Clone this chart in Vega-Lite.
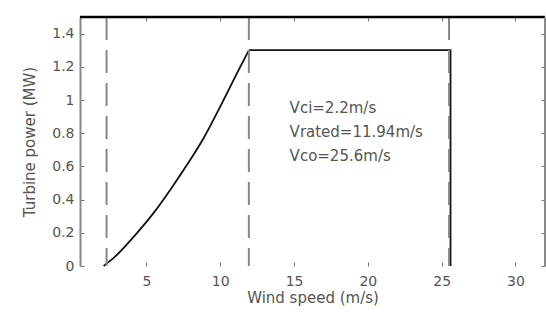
{
  "$schema": "https://vega.github.io/schema/vega-lite/v6.json",
  "width": 465,
  "height": 249,
  "autosize": "none",
  "padding": {"left": 80, "top": 17, "right": 1, "bottom": 51},
  "background": "white",
  "config": {
    "view": {"stroke": null},
    "axis": {"labelFont": "DejaVu Sans", "titleFont": "DejaVu Sans", "labelColor": "#555", "titleColor": "#555", "labelFontSize": 14, "titleFontSize": 15, "titleFontWeight": "normal", "grid": false, "tickColor": "#777", "domainColor": "#888"}
  },
  "datasets": {
    "curve": [
      {"i": 0, "ws": 2.1, "p": 0.0},
      {"i": 1, "ws": 2.8, "p": 0.05},
      {"i": 2, "ws": 4.37, "p": 0.2},
      {"i": 3, "ws": 5.49, "p": 0.32},
      {"i": 4, "ws": 6.62, "p": 0.46},
      {"i": 5, "ws": 7.75, "p": 0.61},
      {"i": 6, "ws": 8.87, "p": 0.77},
      {"i": 7, "ws": 10.0, "p": 0.96},
      {"i": 8, "ws": 11.13, "p": 1.16},
      {"i": 9, "ws": 11.94, "p": 1.3}
    ],
    "rated": [
      {"i": 0, "ws": 11.94, "p": 1.3},
      {"i": 1, "ws": 25.6, "p": 1.3},
      {"i": 2, "ws": 25.6, "p": 0.0}
    ],
    "marks": [
      {"ws": 2.3},
      {"ws": 11.94},
      {"ws": 25.5}
    ],
    "labels": [
      {"ws": 14.7, "p": 0.95, "t": "Vci=2.2m/s"},
      {"ws": 14.7, "p": 0.81, "t": "Vrated=11.94m/s"},
      {"ws": 14.7, "p": 0.66, "t": "Vco=25.6m/s"}
    ],
    "topEdge": [{"ws": 0.5, "ws2": 32, "p": 1.5}],
    "rightEdge": [{"ws": 32}]
  },
  "resolve": {"axis": {"x": "independent", "y": "independent"}},
  "layer": [
    {
      "data": {"name": "curve"},
      "mark": {"type": "line", "color": "#111", "strokeWidth": 1.8, "interpolate": "monotone"},
      "encoding": {
        "x": {"field": "ws", "type": "quantitative", "scale": {"domain": [0.5, 32], "nice": false, "zero": false},
          "axis": {"orient": "bottom", "values": [5, 10, 15, 20, 25, 30], "domain": false, "tickSize": -4, "labelPadding": 12, "title": "Wind speed (m/s)", "titlePadding": 2}},
        "y": {"field": "p", "type": "quantitative", "scale": {"domain": [0, 1.5], "nice": false},
          "axis": {"orient": "left", "values": [0, 0.2, 0.4, 0.6, 0.8, 1, 1.2, 1.4], "format": "~g", "domainWidth": 2, "tickSize": -4, "labelPadding": 10, "title": "Turbine power (MW)", "titlePadding": 14}},
        "order": {"field": "i", "type": "quantitative"}
      }
    },
    {
      "data": {"name": "rated"},
      "mark": {"type": "line", "color": "#111", "strokeWidth": 1.8},
      "encoding": {
        "x": {"field": "ws", "type": "quantitative", "axis": null},
        "y": {"field": "p", "type": "quantitative", "axis": null},
        "order": {"field": "i", "type": "quantitative"}
      }
    },
    {
      "data": {"name": "marks"},
      "mark": {"type": "rule", "color": "#888", "strokeWidth": 2, "strokeDash": [23, 10]},
      "encoding": {
        "x": {"field": "ws", "type": "quantitative", "axis": {"orient": "top", "values": [5, 10, 15, 20, 25, 30], "labels": false, "domain": false, "tickSize": -4, "title": null}}
      }
    },
    {
      "data": {"name": "labels"},
      "mark": {"type": "text", "align": "left", "baseline": "middle", "font": "DejaVu Sans", "fontSize": 15, "color": "#555"},
      "encoding": {
        "x": {"field": "ws", "type": "quantitative", "axis": null},
        "y": {"field": "p", "type": "quantitative", "axis": {"orient": "right", "values": [0, 0.2, 0.4, 0.6, 0.8, 1, 1.2, 1.4], "labels": false, "domain": false, "tickSize": -4, "title": null}},
        "text": {"field": "t"}
      }
    },
    {
      "data": {"name": "topEdge"},
      "mark": {"type": "rule", "color": "#000", "strokeWidth": 2.5},
      "encoding": {
        "x": {"field": "ws", "type": "quantitative", "axis": null},
        "x2": {"field": "ws2"},
        "y": {"field": "p", "type": "quantitative", "axis": null}
      }
    },
    {
      "data": {"name": "rightEdge"},
      "mark": {"type": "rule", "color": "#888", "strokeWidth": 2},
      "encoding": {
        "x": {"field": "ws", "type": "quantitative", "axis": null}
      }
    }
  ]
}
